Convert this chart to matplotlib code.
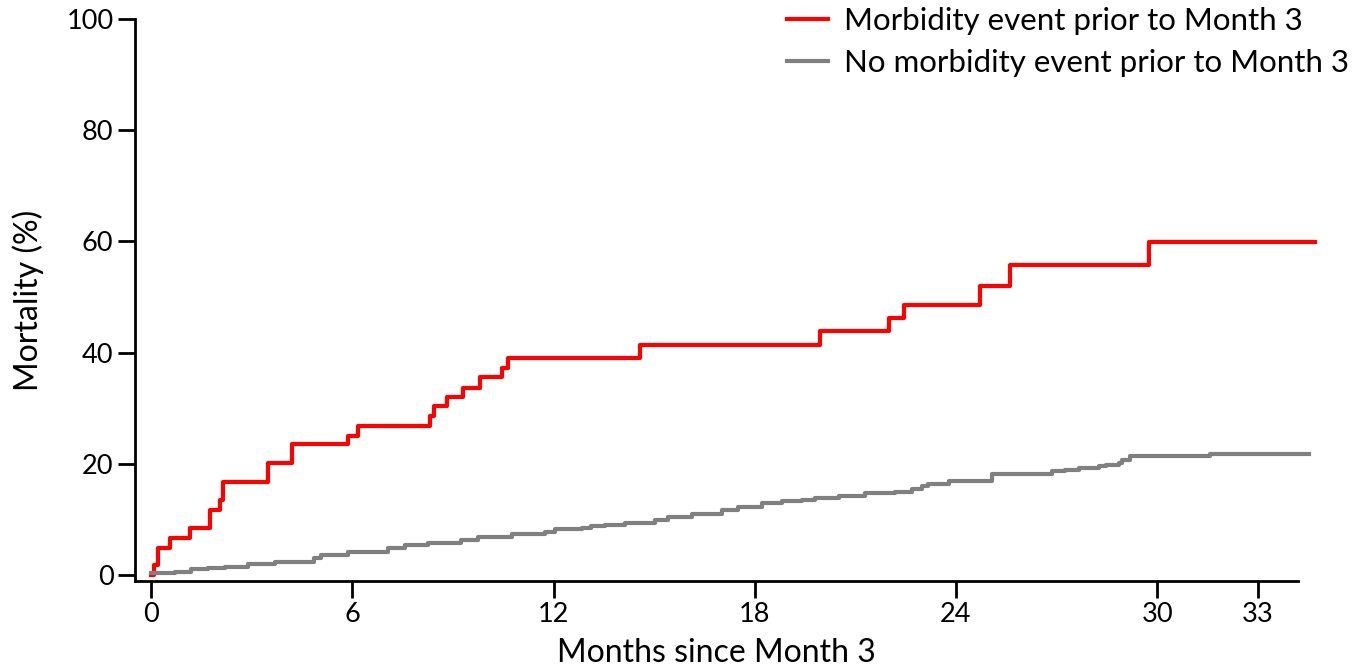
import matplotlib.pyplot as plt

# Kaplan-Meier style cumulative mortality
red_months = [0, 0.08, 0.20, 0.57, 1.17, 1.76, 2.06, 2.14, 3.48, 4.21, 5.87, 6.17,
              8.33, 8.44, 8.83, 9.30, 9.82, 10.45, 10.63, 14.58, 19.95, 21.99,
              22.44, 24.73, 25.62, 29.75, 34.72]
red_mort = [0, 1.8, 4.9, 6.7, 8.4, 11.7, 13.5, 16.7, 20.1, 23.5, 24.9, 26.8,
            28.6, 30.3, 32.0, 33.7, 35.6, 37.3, 39.1, 41.4, 43.8, 46.2,
            48.6, 52.0, 55.7, 59.8, 59.8]

gray_months = [0, 0.70, 1.19, 1.69, 2.19, 2.89, 3.68, 4.87, 5.07, 5.87, 7.07, 7.56,
               8.26, 9.25, 9.75, 10.75, 11.74, 12.04, 12.84, 13.13, 13.53, 14.13,
               15.02, 15.42, 16.12, 17.01, 17.51, 18.21, 18.81, 19.40, 19.80, 20.50,
               21.29, 22.19, 22.69, 22.99, 23.18, 23.78, 25.07, 26.87, 27.26, 27.66,
               28.26, 28.46, 28.86, 28.96, 29.20, 31.59, 34.53]
gray_mort = [0.3, 0.6, 1.0, 1.3, 1.5, 1.9, 2.3, 3.0, 3.5, 4.1, 4.8, 5.3,
             5.7, 6.3, 6.8, 7.3, 7.8, 8.2, 8.4, 8.8, 8.9, 9.4,
             9.9, 10.5, 10.9, 11.7, 12.3, 12.9, 13.3, 13.5, 13.8, 14.2,
             14.7, 15.0, 15.4, 15.9, 16.4, 16.8, 18.2, 18.6, 18.9, 19.2,
             19.5, 19.8, 20.2, 20.7, 21.4, 21.8, 21.8]

x_ticks = [0, 6, 12, 18, 24, 30, 33]
y_ticks = [0, 20, 40, 60, 80, 100]

plt.rcParams['font.family'] = ['Lato', 'DejaVu Sans']

fig = plt.figure(figsize=(13.52, 6.67), dpi=100)
ax = fig.add_axes([135 / 1352, 1 - 581 / 667, (1298 - 135) / 1352, (581 - 19) / 667])

ax.plot(red_months, red_mort, drawstyle='steps-post', color='#ff0000', lw=3,
        clip_on=False, label='Morbidity event prior to Month 3')
ax.plot(gray_months, gray_mort, drawstyle='steps-post', color='#808080', lw=3,
        clip_on=False, label='No morbidity event prior to Month 3')

ax.set_xlim(-0.48, 34.2)
ax.set_ylim(-1.1, 100)
ax.set_xticks(x_ticks)
ax.set_yticks(y_ticks)
ax.tick_params(axis='both', labelsize=19.5, width=2, length=12, direction='out', color='black')
ax.tick_params(axis='x', pad=3)
ax.set_xlabel('Months since Month 3', fontsize=23, labelpad=8)
ax.set_ylabel('Mortality (%)', fontsize=23, labelpad=16)

for side in ['top', 'right']:
    ax.spines[side].set_visible(False)
for side in ['left', 'bottom']:
    ax.spines[side].set_linewidth(2)

ax.legend(loc='upper right', bbox_to_anchor=(1.009, 1.013),
          bbox_transform=fig.transFigure, frameon=False, fontsize=22.5,
          handlelength=1.3, handletextpad=0.5, labelspacing=0.45, borderaxespad=0.1)

fig.savefig('out.png', dpi=100)
